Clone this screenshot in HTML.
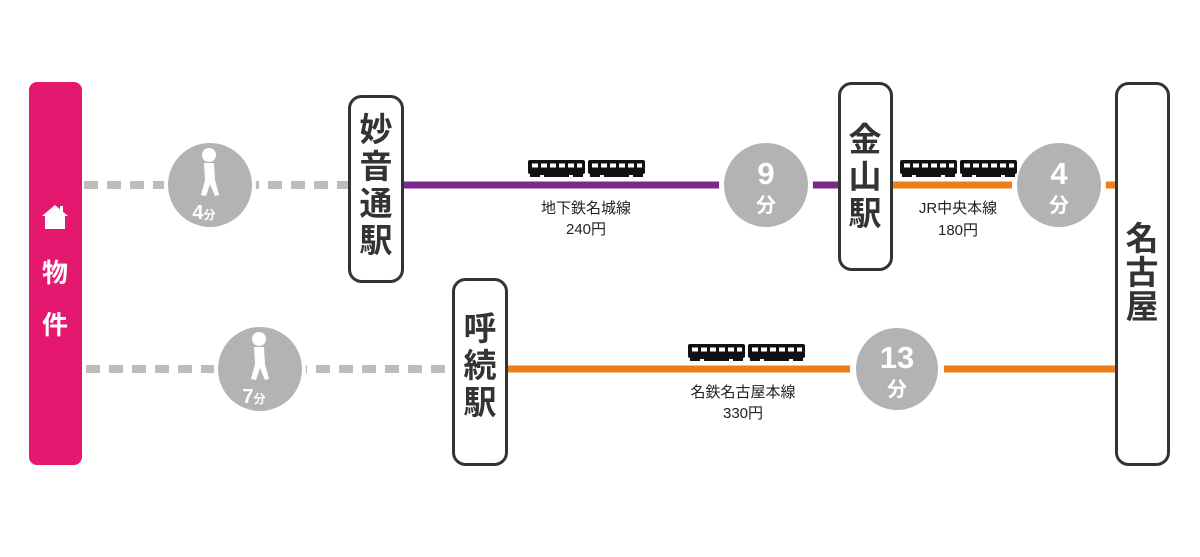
<!DOCTYPE html>
<html><head><meta charset="utf-8"><style>
html,body{margin:0;padding:0;background:#fff;width:1200px;height:557px;overflow:hidden}
svg{display:block}
text{font-family:"Liberation Sans","Noto Sans CJK JP",sans-serif}
.st{font-size:33px;font-weight:bold;fill:#333;text-anchor:middle}
.lb{font-size:15px;fill:#222;text-anchor:middle}
.cn{fill:#fff;font-weight:bold;text-anchor:middle}
</style></head><body>
<svg width="1200" height="557" viewBox="0 0 1200 557">
<defs>
<g id="car">
<rect x="0" y="0" width="57" height="14" rx="2" fill="#111"/>
<rect x="2" y="14" width="53" height="3" fill="#111"/>
<g fill="#fff">
<rect x="4" y="3.5" width="6" height="4"/><rect x="13" y="3.5" width="6" height="4"/><rect x="22" y="3.5" width="6" height="4"/><rect x="31" y="3.5" width="6" height="4"/><rect x="40" y="3.5" width="6" height="4"/><rect x="49" y="3.5" width="5" height="4"/>
</g>
<g fill="#fff"><rect x="12" y="15" width="4" height="2"/><rect x="41" y="15" width="4" height="2"/></g>
</g>
<g id="train"><use href="#car" x="0"/><use href="#car" x="60"/></g>
<g id="walker" fill="#fff">
<circle cx="0" cy="-25" r="7"/>
<path d="M-5,-17 L5,-17 L6,0 L10,15 L6,16 L1,4 L-3,16 L-8,15 L-4,0 Z"/>
</g>
</defs>

<rect x="29" y="82" width="53" height="383" rx="8" fill="#e5186f"/>
<path d="M55,205 L68,216 L65,216 L65,229 L45,229 L45,216 L42,216 Z" fill="#fff"/>
<rect x="60" y="206" width="3" height="6" fill="#fff"/>
<text x="55" y="282" class="cn" font-size="26">物</text>
<text x="55" y="334" class="cn" font-size="26">件</text>

<line x1="84" y1="185" x2="348" y2="185" stroke="#bdbdbd" stroke-width="8" stroke-dasharray="14 9"/>
<circle cx="210" cy="185" r="46" fill="#fff"/>
<circle cx="210" cy="185" r="42" fill="#b3b3b3"/>
<use href="#walker" x="209" y="180"/>
<text x="204" y="219" class="cn" font-size="20">4<tspan font-size="12">分</tspan></text>

<line x1="86" y1="369" x2="452" y2="369" stroke="#bdbdbd" stroke-width="8" stroke-dasharray="14 9"/>
<circle cx="260" cy="369" r="46" fill="#fff"/>
<circle cx="260" cy="369" r="42" fill="#b3b3b3"/>
<use href="#walker" x="259" y="364"/>
<text x="254" y="403" class="cn" font-size="20">7<tspan font-size="12">分</tspan></text>

<line x1="403" y1="185" x2="838" y2="185" stroke="#7b2a8b" stroke-width="7"/>
<circle cx="766" cy="185" r="47" fill="#fff"/>
<circle cx="766" cy="185" r="42" fill="#b3b3b3"/>
<text x="766" y="184" class="cn" font-size="31">9</text>
<text x="766" y="212" class="cn" font-size="20">分</text>
<use href="#train" x="528" y="160"/>
<text x="586" y="213" class="lb">地下鉄名城線</text>
<text x="586" y="234" class="lb">240円</text>

<line x1="892" y1="185" x2="1115" y2="185" stroke="#ef7d1a" stroke-width="7"/>
<circle cx="1059" cy="185" r="47" fill="#fff"/>
<circle cx="1059" cy="185" r="42" fill="#b3b3b3"/>
<text x="1059" y="184" class="cn" font-size="31">4</text>
<text x="1059" y="212" class="cn" font-size="20">分</text>
<use href="#train" x="900" y="160"/>
<text x="958" y="213" class="lb">JR中央本線</text>
<text x="958" y="235" class="lb">180円</text>

<line x1="507" y1="369" x2="1115" y2="369" stroke="#ef7d1a" stroke-width="7"/>
<circle cx="897" cy="369" r="47" fill="#fff"/>
<circle cx="897" cy="369" r="41" fill="#b3b3b3"/>
<text x="897" y="368" class="cn" font-size="31">13</text>
<text x="897" y="396" class="cn" font-size="20">分</text>
<use href="#train" x="688" y="344"/>
<text x="743" y="397" class="lb">名鉄名古屋本線</text>
<text x="743" y="418" class="lb">330円</text>

<rect x="349.5" y="96.5" width="53" height="185" rx="12" fill="#fff" stroke="#333" stroke-width="3"/>
<text x="376" y="141" class="st">妙</text>
<text x="376" y="178" class="st">音</text>
<text x="376" y="215" class="st">通</text>
<text x="376" y="252" class="st">駅</text>

<rect x="839.5" y="83.5" width="52" height="186" rx="12" fill="#fff" stroke="#333" stroke-width="3"/>
<text x="865" y="151" class="st">金</text>
<text x="865" y="188" class="st">山</text>
<text x="865" y="225" class="st">駅</text>

<rect x="453.5" y="279.5" width="53" height="185" rx="12" fill="#fff" stroke="#333" stroke-width="3"/>
<text x="480" y="340" class="st">呼</text>
<text x="480" y="377" class="st">続</text>
<text x="480" y="414" class="st">駅</text>

<rect x="1116.5" y="83.5" width="52" height="381" rx="12" fill="#fff" stroke="#333" stroke-width="3"/>
<text x="1142" y="250" class="st">名</text>
<text x="1142" y="284" class="st">古</text>
<text x="1142" y="318" class="st">屋</text>
</svg>
</body></html>
